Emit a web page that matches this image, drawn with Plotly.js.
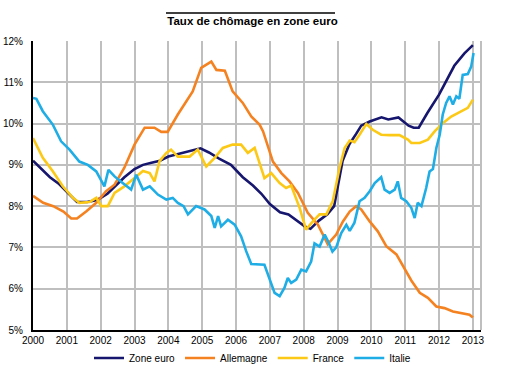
<!DOCTYPE html>
<html>
<head>
<meta charset="utf-8">
<script src="https://cdn.plot.ly/plotly-3.0.1.min.js"></script>
<style>html,body{margin:0;padding:0;background:#fff;}#chart{width:505px;height:373px;}</style>
</head>
<body>
<div id="chart"></div>
<script>
// Tick labels
const yearTicks = [2000,2001,2002,2003,2004,2005,2006,2007,2008,2009,2010,2011,2012,2013];
const yearLabels = ["2000","2001","2002","2003","2004","2005","2006","2007","2008","2009","2010","2011","2012","2013"];
const seriesNames = ["Zone euro","Allemagne","France","Italie"];

// Zone euro
const euroX = [2000.0,2000.25,2000.5,2000.75,2001.0,2001.3,2001.6,2001.9,2002.2,2002.45,2002.7,2003.0,2003.25,2003.5,2003.75,2004.0,2004.25,2004.5,2004.75,2004.95,2005.2,2005.5,2005.85,2006.2,2006.5,2006.75,2007.0,2007.3,2007.55,2007.8,2008.05,2008.2,2008.45,2008.7,2008.9,2009.15,2009.35,2009.55,2009.7,2009.95,2010.3,2010.5,2010.8,2011.1,2011.25,2011.4,2011.65,2012.0,2012.2,2012.45,2012.75,2013.0];
const euroY = [9.1,8.9,8.7,8.55,8.35,8.1,8.1,8.15,8.3,8.5,8.7,8.9,9.0,9.05,9.1,9.2,9.25,9.3,9.35,9.4,9.3,9.15,9.0,8.7,8.5,8.3,8.05,7.85,7.8,7.65,7.5,7.45,7.65,7.8,8.0,9.1,9.5,9.75,9.95,10.05,10.15,10.1,10.15,9.95,9.9,9.9,10.25,10.7,11.0,11.4,11.7,11.9];

// Allemagne
const deX = [2000.0,2000.3,2000.6,2000.9,2001.13,2001.3,2001.57,2001.87,2002.16,2002.41,2002.7,2003.0,2003.3,2003.59,2003.79,2003.98,2004.28,2004.53,2004.72,2004.97,2005.27,2005.42,2005.67,2005.9,2006.2,2006.45,2006.7,2006.8,2007.09,2007.34,2007.58,2007.83,2008.12,2008.42,2008.71,2008.96,2009.16,2009.36,2009.55,2009.7,2009.95,2010.19,2010.44,2010.74,2010.98,2011.18,2011.43,2011.67,2011.92,2012.16,2012.41,2012.66,2012.9,2013.0];
const deY = [8.25,8.08,8.0,7.87,7.7,7.7,7.87,8.08,8.36,8.52,8.93,9.49,9.9,9.9,9.8,9.8,10.22,10.54,10.78,11.35,11.5,11.3,11.28,10.78,10.5,10.17,9.97,9.81,9.08,8.8,8.6,8.32,7.84,7.55,7.08,7.31,7.63,7.87,8.0,7.92,7.63,7.39,7.03,6.83,6.5,6.2,5.9,5.78,5.57,5.53,5.45,5.41,5.37,5.3];

// France
const frX = [2000.0,2000.29,2000.59,2000.88,2001.18,2001.37,2001.67,2001.87,2002.02,2002.21,2002.41,2002.7,2003.0,2003.25,2003.45,2003.59,2003.74,2003.94,2004.08,2004.28,2004.63,2004.87,2005.12,2005.37,2005.61,2005.9,2006.15,2006.35,2006.55,2006.7,2006.84,2007.04,2007.29,2007.48,2007.63,2007.88,2008.07,2008.27,2008.47,2008.67,2008.86,2009.06,2009.21,2009.36,2009.5,2009.65,2009.85,2010.04,2010.29,2010.54,2010.83,2011.08,2011.18,2011.43,2011.67,2011.87,2012.11,2012.36,2012.6,2012.85,2013.0];
const frY = [9.65,9.17,8.84,8.48,8.2,8.08,8.1,8.2,8.0,8.0,8.32,8.48,8.68,8.85,8.8,8.6,9.09,9.29,9.37,9.2,9.2,9.37,8.96,9.17,9.41,9.49,9.49,9.29,9.41,9.04,8.68,8.8,8.56,8.44,8.5,7.96,7.43,7.63,7.8,7.8,8.12,8.93,9.41,9.59,9.55,9.73,9.99,9.85,9.73,9.72,9.72,9.61,9.53,9.53,9.61,9.81,10.01,10.17,10.27,10.38,10.58];

// Italie
const itX = [2000.0,2000.1,2000.29,2000.59,2000.83,2001.08,2001.37,2001.62,2001.87,2002.11,2002.23,2002.41,2002.65,2002.9,2003.05,2003.25,2003.45,2003.69,2003.94,2004.13,2004.28,2004.45,2004.58,2004.82,2005.07,2005.27,2005.37,2005.47,2005.56,2005.76,2005.96,2006.15,2006.3,2006.45,2006.84,2006.99,2007.14,2007.29,2007.43,2007.53,2007.63,2007.78,2007.93,2008.07,2008.22,2008.32,2008.47,2008.62,2008.72,2008.85,2008.96,2009.11,2009.26,2009.36,2009.5,2009.65,2009.8,2009.95,2010.1,2010.29,2010.39,2010.54,2010.69,2010.78,2010.88,2011.03,2011.18,2011.28,2011.37,2011.48,2011.62,2011.72,2011.82,2011.92,2012.02,2012.11,2012.21,2012.31,2012.41,2012.51,2012.6,2012.7,2012.85,2012.95,2013.02];
const itY = [10.62,10.6,10.3,9.97,9.57,9.37,9.08,9.0,8.84,8.48,8.88,8.72,8.56,8.4,8.76,8.4,8.48,8.28,8.16,8.2,8.08,8.0,7.8,8.0,7.92,7.76,7.47,7.76,7.51,7.67,7.55,7.27,6.91,6.6,6.58,6.26,5.9,5.82,6.02,6.26,6.14,6.22,6.46,6.42,6.66,7.1,7.02,7.31,7.15,6.9,7.0,7.35,7.55,7.4,7.6,8.12,8.2,8.36,8.56,8.7,8.4,8.32,8.4,8.6,8.2,8.12,7.96,7.71,8.08,8.0,8.44,8.84,8.9,9.41,9.73,10.22,10.5,10.66,10.46,10.66,10.6,11.18,11.2,11.38,11.71];

const colors = ["#16166e","#f58220","#fcc917","#1fade6"];
const font = "Liberation Sans, Arial, sans-serif";

const xs = [euroX, deX, frX, itX];
const ys = [euroY, deY, frY, itY];
const traces = seriesNames.map((n,i)=>({
  type:"scatter", mode:"lines", name:n, x:xs[i], y:ys[i],
  line:{color:colors[i], width:2.6}, hoverinfo:"skip"
}));

const layout = {
  width:505, height:373,
  margin:{l:33, r:24, t:41, b:43},
  paper_bgcolor:"#fff", plot_bgcolor:"#fff",
  font:{family:font, size:10, color:"#000"},
  title:{text:"<b>Taux de chômage en zone euro</b>", x:0.5, xref:"container", xanchor:"center",
         y:1-21/373, yref:"container", yanchor:"middle",
         font:{family:font, size:11.5, color:"#000"}},
  xaxis:{range:[2000,2013.24], tickmode:"array", tickvals:yearTicks, ticktext:yearLabels,
         showgrid:true, gridcolor:"#bfbfbf", gridwidth:2, zeroline:false,
         showline:true, linecolor:"#000", linewidth:2, ticks:"", tickfont:{size:10, family:font}},
  yaxis:{range:[5,12], dtick:1, tick0:5, ticksuffix:"%", showgrid:true, gridcolor:"#bfbfbf", gridwidth:2,
         zeroline:false, showline:true, linecolor:"#000", linewidth:2, ticks:"",
         ticklabelstandoff:6, tickfont:{size:10, family:font}},
  legend:{orientation:"h", x:0.5, xref:"container", xanchor:"center", y:1-358/373, yref:"container", yanchor:"middle",
          font:{size:10, family:font}, itemwidth:30, tracegroupgap:0, bgcolor:"rgba(0,0,0,0)"},
  showlegend:true,
  shapes:[
    {type:"line", xref:"paper", yref:"paper", x0:1, x1:1, y0:0, y1:1, line:{color:"#bfbfbf", width:2}},
    {type:"line", xref:"paper", yref:"paper", x0:(166-33)/448, x1:(335-33)/448, y0:1+(41-13)/289, y1:1+(41-13)/289, line:{color:"#000", width:1.5}}
  ]
};

Plotly.newPlot("chart", traces, layout, {displayModeBar:false, staticPlot:true});
</script>
</body>
</html>
